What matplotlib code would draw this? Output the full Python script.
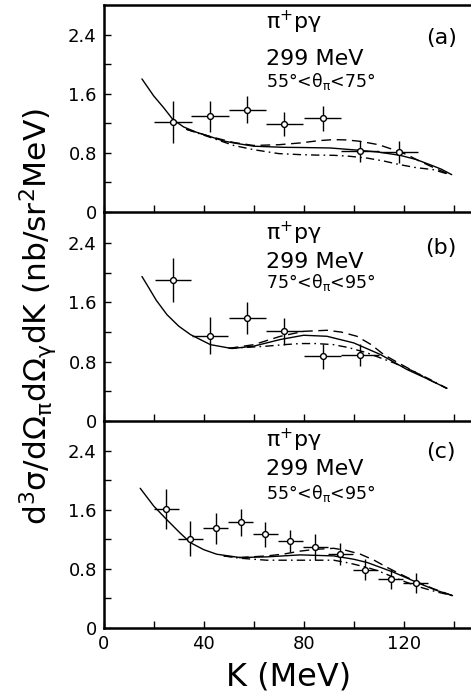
import matplotlib
matplotlib.use("Agg")
import matplotlib.pyplot as plt

plt.rcParams['font.family'] = ['DejaVu Sans']
plt.rcParams['mathtext.fontset'] = 'dejavusans'

# ---------------- data ----------------
# panel (a)
a_k = [27.7, 42.6, 57.5, 72.3, 87.6, 102.6, 118.1]
a_y = [1.22, 1.295, 1.385, 1.19, 1.27, 0.82, 0.81]
a_xerr = [7.5, 7.5, 7.5, 7.5, 7.5, 7.5, 7.5]
a_yerr = [0.28, 0.21, 0.18, 0.165, 0.17, 0.14, 0.15]
a_solid_k = [15.3, 20, 24, 27.7, 32, 37, 42.6, 48, 52, 60, 72, 80, 90.6, 102.6, 110, 118.5, 125, 130.5, 135, 139.2]
a_solid_y = [1.80, 1.57, 1.41, 1.25, 1.15, 1.08, 1.02, 0.96, 0.934, 0.89, 0.875, 0.872, 0.866, 0.834, 0.81, 0.767, 0.71, 0.64, 0.58, 0.505]
a_dash_k = [33, 42.6, 52, 60, 70, 78.6, 86, 91.9, 97, 102.6, 110, 115.9, 121, 126.5, 132, 138.5]
a_dash_y = [1.12, 1.02, 0.94, 0.90, 0.91, 0.934, 0.965, 0.979, 0.975, 0.956, 0.91, 0.843, 0.78, 0.686, 0.60, 0.505]
a_dd_k = [33, 42.6, 52, 60, 70, 78.6, 85, 91.9, 98, 105.2, 112, 118.5, 125, 131.8, 138.5]
a_dd_y = [1.12, 1.01, 0.90, 0.843, 0.79, 0.776, 0.77, 0.767, 0.755, 0.73, 0.69, 0.64, 0.60, 0.573, 0.505]

# panel (b)
b_k = [27.7, 42.6, 57.5, 72.3, 87.6, 102.6]
b_y = [1.90, 1.15, 1.39, 1.21, 0.875, 0.89]
b_xerr = [7.3, 7.3, 7.3, 7.3, 7.5, 7.5]
b_yerr = [0.30, 0.25, 0.21, 0.18, 0.17, 0.15]
b_solid_k = [15.3, 18, 21, 25.3, 30, 34.7, 42.7, 51.3, 60, 70.7, 80, 89.3, 100, 110.7, 121.3, 130, 137.3]
b_solid_y = [1.95, 1.80, 1.63, 1.435, 1.28, 1.166, 1.03, 0.978, 1.01, 1.10, 1.157, 1.143, 1.054, 0.897, 0.695, 0.56, 0.44]
b_dash_k = [50, 60, 70.7, 80, 89.3, 95, 101.3, 107, 112, 117, 122.7, 130, 137.3]
b_dash_y = [0.98, 1.03, 1.143, 1.21, 1.224, 1.20, 1.143, 1.03, 0.897, 0.80, 0.695, 0.56, 0.44]
b_dd_k = [50, 58, 65.3, 72, 78.7, 85, 92, 98, 105.3, 110, 116, 124, 130, 137.3]
b_dd_y = [0.98, 0.995, 1.01, 1.03, 1.045, 1.045, 1.03, 0.99, 0.92, 0.86, 0.785, 0.67, 0.57, 0.44]

# panel (c)
c_k = [25.1, 34.7, 44.8, 54.8, 64.6, 74.6, 84.7, 94.7, 104.7, 114.8, 124.8]
c_y = [1.61, 1.21, 1.347, 1.43, 1.266, 1.177, 1.096, 0.998, 0.787, 0.662, 0.604]
c_xerr = [5, 5, 5, 5, 5, 5, 5, 5, 5, 5, 5]
c_yerr = [0.27, 0.235, 0.21, 0.185, 0.17, 0.15, 0.17, 0.15, 0.14, 0.135, 0.135]
c_solid_k = [14.6, 20, 25.1, 30.4, 34.7, 40, 45.2, 54.5, 65.2, 78.6, 92, 100, 105.4, 116.1, 126.8, 133, 139.5]
c_solid_y = [1.89, 1.65, 1.47, 1.29, 1.154, 1.06, 0.998, 0.953, 0.962, 0.989, 0.975, 0.93, 0.886, 0.752, 0.595, 0.51, 0.438]
c_dash_k = [48, 54.5, 65.2, 72, 78.6, 85, 92, 97, 102.7, 108, 113.4, 118, 124.1, 132, 139.5]
c_dash_y = [0.975, 0.953, 0.975, 1.0, 1.04, 1.065, 1.078, 1.05, 0.998, 0.92, 0.819, 0.74, 0.64, 0.53, 0.438]
c_dd_k = [48, 54.5, 65.2, 78.6, 92, 98, 105.4, 110, 116.1, 121, 126.8, 133, 139.5]
c_dd_y = [0.975, 0.944, 0.917, 0.917, 0.917, 0.88, 0.819, 0.77, 0.685, 0.62, 0.55, 0.49, 0.438]

panel_tags = ['(a)', '(b)', '(c)']
reaction = r'π$^{+}$pγ'
energy = '299 MeV'
angle_ranges = [r'55°<θ$_{\mathrm{π}}$<75°', r'75°<θ$_{\mathrm{π}}$<95°', r'55°<θ$_{\mathrm{π}}$<95°']
x_ticks = [0, 40, 80, 120]
x_labels = ['0', '40', '80', '120']
y_ticks = [0, 0.8, 1.6, 2.4]
y_labels = ['0', '0.8', '1.6', '2.4']

panels = [
    (a_k, a_y, a_xerr, a_yerr, a_solid_k, a_solid_y, a_dash_k, a_dash_y, a_dd_k, a_dd_y),
    (b_k, b_y, b_xerr, b_yerr, b_solid_k, b_solid_y, b_dash_k, b_dash_y, b_dd_k, b_dd_y),
    (c_k, c_y, c_xerr, c_yerr, c_solid_k, c_solid_y, c_dash_k, c_dash_y, c_dd_k, c_dd_y),
]

# ---------------- layout ----------------
W, H = 471, 696
fig = plt.figure(figsize=(W / 100, H / 100), dpi=100)
left = 103.7 / W
right_px = W + 2
boxes = [(5, 212), (212, 421), (421, 628)]
ylims = [2.80, 2.82, 2.80]
text_y = [(2.48, 1.99, 1.69), (2.44, 2.06, 1.79), (2.45, 2.07, 1.75)]
tag_y = [2.36, 2.34, 2.38]
xmax = (right_px - 103.7) / 2.5

for i, (box, data) in enumerate(zip(boxes, panels)):
    top, bot = box
    ax = fig.add_axes([left, 1 - bot / H, (right_px - 103.7) / W, (bot - top) / H])
    k, y, xe, ye, sk, sy, dk, dy, ddk, ddy = data
    ax.plot(sk, sy, color='black', lw=1.0, solid_capstyle='round')
    ax.plot(dk, dy, color='black', lw=1.0, dashes=(7, 4))
    ax.plot(ddk, ddy, color='black', lw=1.0, dashes=(6, 3, 1.2, 3))
    ax.errorbar(k, y, xerr=xe, yerr=ye, fmt='o', ms=4.2, mfc='white', mec='black',
                mew=1.0, ecolor='black', elinewidth=1.0, capsize=0, zorder=5)
    ax.set_xlim(0, xmax)
    ax.set_ylim(0, ylims[i])
    ax.set_xticks(x_ticks)
    ax.set_xticklabels(x_labels)
    ax.set_xticks([20, 60, 100, 140], minor=True)
    ax.set_yticks(y_ticks)
    ax.set_yticklabels(y_labels)
    ax.set_yticks([0.4, 1.2, 2.0], minor=True)
    ax.tick_params(which='both', direction='in', width=1.0, color='black')
    ax.tick_params(which='major', length=5, labelsize=13, pad=5)
    ax.tick_params(which='minor', length=5)
    ax.tick_params(axis='y', which='both', left=True, right=False)
    ax.tick_params(axis='x', which='both', top=False)
    if i < 2:
        ax.tick_params(axis='x', labelbottom=False)
    for s in ['left', 'bottom', 'top']:
        ax.spines[s].set_linewidth(1.8)
    ax.spines['right'].set_visible(False)
    if i > 0:
        ax.spines['top'].set_visible(False)
    ax.patch.set_alpha(0)
    t1, t2, t3 = text_y[i]
    ax.text(65, t1, reaction, fontsize=16, va='baseline', ha='left')
    ax.text(65, t2, energy, fontsize=16, va='baseline', ha='left')
    ax.text(65, t3, angle_ranges[i], fontsize=12.5, va='baseline', ha='left')
    ax.text(135, tag_y[i], panel_tags[i], fontsize=16, va='center', ha='center')
    if i == 2:
        ax.set_xlabel('K (MeV)', fontsize=23, labelpad=6)

fig.text(38 / W, 1 - 316.5 / H,
         r'd$^{3}$σ/dΩ$_{\mathrm{π}}$dΩ$_{\mathrm{γ}}$dK (nb/sr$^{2}$MeV)',
         rotation=90, fontsize=22.5, ha='center', va='center')

fig.savefig('out.png', dpi=100)
